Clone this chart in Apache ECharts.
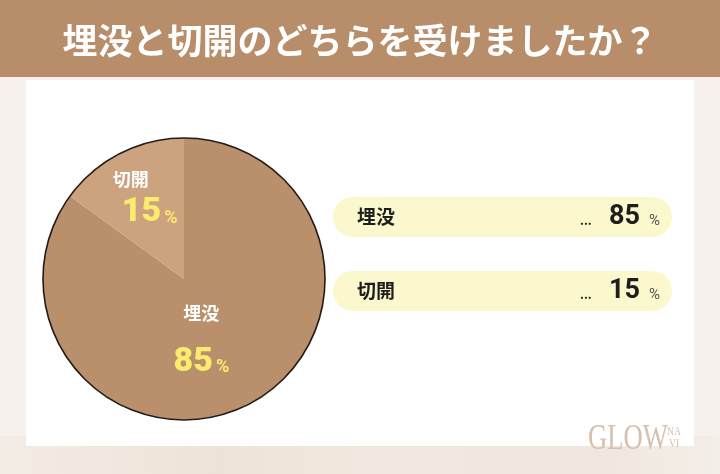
<!DOCTYPE html>
<html>
<head>
<meta charset="utf-8">
<script src="https://cdn.jsdelivr.net/npm/echarts@6/dist/echarts.min.js"></script>
<style>
html,body{margin:0;padding:0;background:#f6f1ec;}
#chart{width:720px;height:474px;}
</style>
</head>
<body>
<div id="chart"></div>
<script>
const titleText = '埋没と切開のどちらを受けましたか？';
const categories = ['埋没', '切開'];
const values = [85, 15];
const unit = '%';

const sliceColors = ['#BA8F6C', '#CDA27F'];
const labelLayout = {
  '埋没': { offset: [-16, -2], nameLH: 40, valueLH: 58, namePad: [0, 0, 0, 0] },
  '切開': { offset: [-1, -16], nameLH: 30, valueLH: 36, namePad: [0, 38, 0, 0] }
};
const FONT = '"Noto Sans CJK JP", "Noto Sans", sans-serif';
const NUMFONT = 'Roboto, "Noto Sans", sans-serif';

const pieData = categories.map((c, i) => {
  const L = labelLayout[c];
  return {
    name: c,
    value: values[i],
    itemStyle: { color: sliceColors[i] },
    label: {
      offset: L.offset,
      rich: {
        n: { fontSize: 18, fontWeight: 'bold', color: '#ffffff', lineHeight: L.nameLH, fontFamily: FONT, padding: L.namePad },
        v: { fontSize: 34, fontWeight: 900, color: '#FBEB6E', lineHeight: L.valueLH, fontFamily: NUMFONT },
        p: { fontSize: 18, fontWeight: 'bold', color: '#FBEB6E', fontFamily: NUMFONT, padding: [11, 0, 0, 3] }
      }
    }
  };
});

const chart = echarts.init(document.getElementById('chart'), null, { renderer: 'canvas' });
chart.setOption({
  backgroundColor: '#f6f1ec',
  animation: false,
  title: {
    text: titleText,
    left: 'center',
    top: 18,
    textStyle: { color: '#ffffff', fontSize: 35, fontWeight: 'bold', fontFamily: FONT }
  },
  graphic: [
    { type: 'rect', z: -10, shape: { x: 0, y: 436, width: 720, height: 38 },
      style: { fill: new echarts.graphic.LinearGradient(0, 0, 1, 0, [
        { offset: 0, color: '#f3ece5' }, { offset: 0.3, color: '#eee3d8' },
        { offset: 0.55, color: '#f1e9e0' }, { offset: 0.8, color: '#efe6dd' }, { offset: 1, color: '#f4eee8' }]) } },
    { type: 'rect', z: -9, shape: { x: 0, y: 0, width: 720, height: 77 }, style: { fill: '#B88D6A' } },
    { type: 'rect', z: -8, shape: { x: 26, y: 80, width: 668, height: 366 }, style: { fill: '#ffffff' } },
    { type: 'text', z: 5, x: 588, y: 422, scaleX: 0.74, style: { text: 'GLOW', fontSize: 36, fontFamily: '"Liberation Serif", "DejaVu Serif", serif', fill: '#d9c0ae' } },
    { type: 'text', z: 5, x: 667, y: 426, scaleX: 0.8, style: { text: 'NA', fontSize: 12, fontFamily: '"Liberation Serif", serif', fill: '#d9c0ae' } },
    { type: 'text', z: 5, x: 669, y: 438, scaleX: 0.8, style: { text: 'VI', fontSize: 12, fontFamily: '"Liberation Serif", serif', fill: '#d9c0ae' } }
  ],
  grid: { left: 333, right: 48, top: 180, height: 148 },
  xAxis: { type: 'value', min: 0, max: 100, show: false },
  yAxis: { type: 'category', data: categories, inverse: true, show: false },
  series: [
    {
      type: 'pie',
      center: [184, 279],
      radius: [0, 141],
      startAngle: 90,
      clockwise: true,
      silent: true,
      labelLine: { show: false },
      label: {
        show: true,
        position: 'inside',
        align: 'center',
        formatter: p => '{n|' + p.name + '}\n{v|' + p.value + '}{p|' + unit + '}'
      },
      data: pieData
    },
    {
      type: 'pie',
      center: [184, 279],
      radius: [0, 141],
      silent: true,
      z: 3,
      label: { show: false },
      labelLine: { show: false },
      itemStyle: { color: 'rgba(0,0,0,0)', borderColor: '#231c18', borderWidth: 1.6 },
      data: [{ value: values.reduce((a, b) => a + b, 0), name: '' }]
    },
    {
      type: 'bar',
      barWidth: 40,
      silent: true,
      showBackground: true,
      backgroundStyle: { color: '#FCF8CD', borderRadius: 20 },
      itemStyle: { color: 'rgba(0,0,0,0)' },
      label: {
        show: true,
        position: 'insideLeft',
        distance: 24,
        formatter: p => '{n|' + p.name + '}{d|...}{v|' + p.value + '}{p|' + unit + '}',
        rich: {
          n: { fontSize: 19, fontWeight: 'bold', color: '#1e1e1e', width: 223, fontFamily: FONT },
          d: { fontSize: 12, fontWeight: 'bold', color: '#1e1e1e', width: 29, fontFamily: FONT, padding: [6, 0, 0, 0] },
          v: { fontSize: 27, fontWeight: 'bold', color: '#1e1e1e', fontFamily: NUMFONT },
          p: { fontSize: 15, color: '#555', padding: [9, 0, 0, 9], fontFamily: NUMFONT }
        }
      },
      data: values
    }
  ]
});
</script>
</body>
</html>
